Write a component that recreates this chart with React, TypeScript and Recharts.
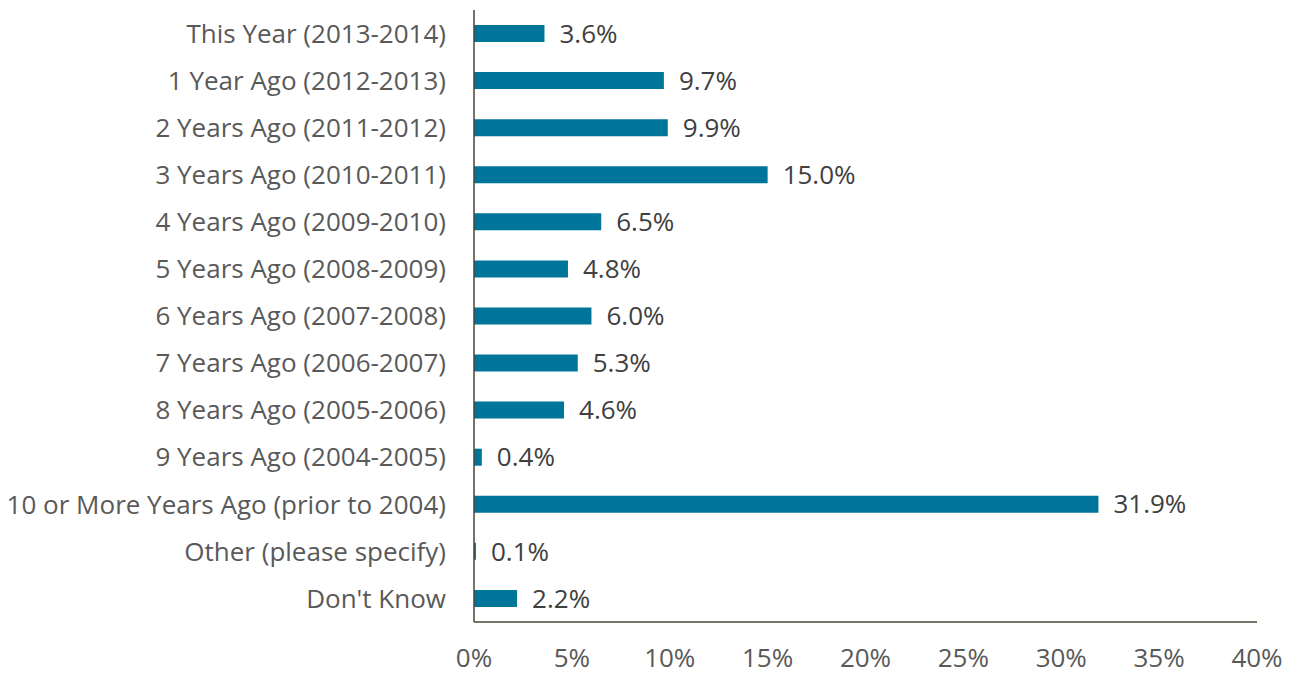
import { Bar, BarChart, LabelList, XAxis, YAxis } from "recharts"

const categories = [
  "This Year (2013-2014)",
  "1 Year Ago (2012-2013)",
  "2 Years Ago (2011-2012)",
  "3 Years Ago (2010-2011)",
  "4 Years Ago (2009-2010)",
  "5 Years Ago (2008-2009)",
  "6 Years Ago (2007-2008)",
  "7 Years Ago (2006-2007)",
  "8 Years Ago (2005-2006)",
  "9 Years Ago (2004-2005)",
  "10 or More Years Ago (prior to 2004)",
  "Other (please specify)",
  "Don't Know",
]

const shares = [3.6, 9.7, 9.9, 15.0, 6.5, 4.8, 6.0, 5.3, 4.6, 0.4, 31.9, 0.1, 2.2]

const xTicks = [0, 5, 10, 15, 20, 25, 30, 35, 40]

const data = categories.map((name, i) => ({ name, value: shares[i] }))

const font = "'Open Sans', sans-serif"

export default function App() {
  return (
    <div style={{ fontFamily: font }}>
      <BarChart
        width={1292}
        height={667}
        data={data}
        layout="vertical"
        margin={{ top: 2, right: 43, left: 0, bottom: 0 }}
      >
        <XAxis
          type="number"
          domain={[0, 40]}
          ticks={xTicks}
          tickFormatter={(v) => `${v}%`}
          axisLine={{ stroke: "#4a4536", strokeWidth: 1.5 }}
          tickLine={false}
          tickSize={0}
          tickMargin={27}
          height={53}
          tick={{ fill: "#595959", fontSize: 26, fontFamily: font }}
        />
        <YAxis
          type="category"
          dataKey="name"
          width={466}
          axisLine={{ stroke: "#4a4536", strokeWidth: 1.5 }}
          tickLine={false}
          tickSize={0}
          tickMargin={28}
          interval={0}
          tick={{ fill: "#595959", fontSize: 26, fontFamily: font }}
        />
        <Bar dataKey="value" fill="#00759a" barSize={17} isAnimationActive={false}>
          <LabelList
            dataKey="value"
            position="right"
            offset={15}
            formatter={(v: number) => `${v.toFixed(1)}%`}
            style={{ fill: "#404040", fontSize: 26, fontFamily: font }}
          />
        </Bar>
      </BarChart>
    </div>
  )
}
